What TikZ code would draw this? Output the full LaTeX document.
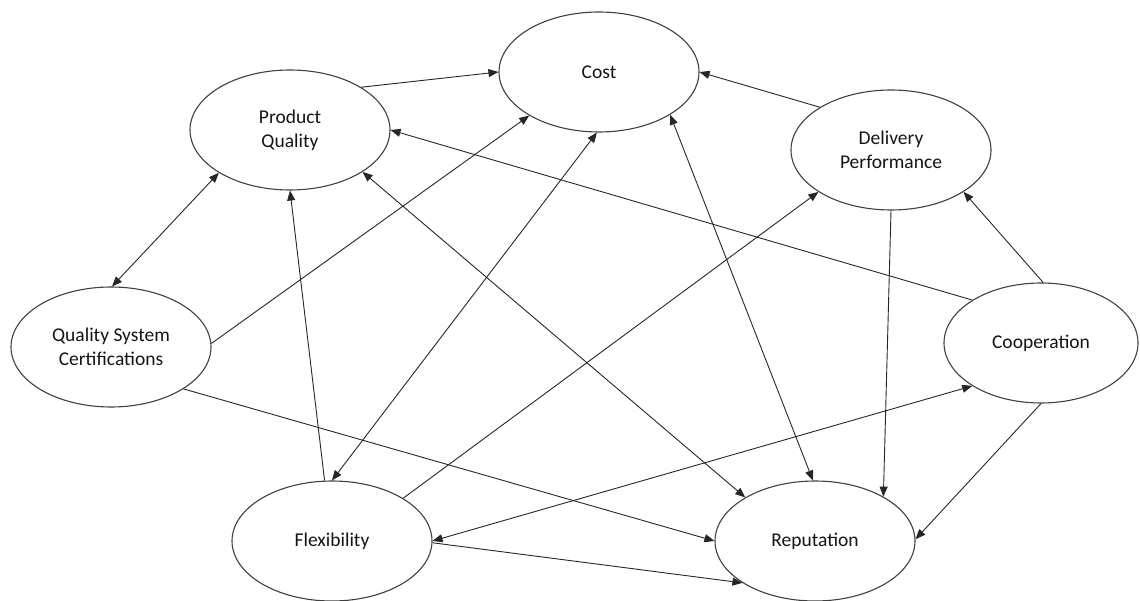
\documentclass[tikz,border=0pt]{standalone}
\usepackage{fontspec}
\setmainfont{Carlito}
\usetikzlibrary{arrows.meta,shapes.geometric}
\begin{document}
\begin{tikzpicture}[x=1pt,y=-1pt,
  factor/.style={ellipse,draw=black!75,line width=1.1pt,minimum width=200pt,minimum height=120pt,inner sep=0pt,align=center,text=black!92,font=\fontsize{19.5}{24}\selectfont},
  link/.style={line width=0.9pt,draw=black!85,-{Triangle[length=10pt,width=8pt]}},
  dlink/.style={line width=0.9pt,draw=black!85,{Triangle[length=10pt,width=8pt]}-{Triangle[length=10pt,width=8pt]}}]
\useasboundingbox (0,0) rectangle (1140,601);
\node[factor] (C) at (599,72) {Cost};
\node[factor] (P) at (290,130) {Product\\Quality};
\node[factor] (D) at (891,150) {Delivery\\Performance};
\node[factor] (Q) at (111,347) {Quality System\\Certifications};
\node[factor,minimum width=194pt] (K) at (1041,343) {Cooperation};
\node[factor] (F) at (332,541) {Flexibility};
\node[factor] (R) at (815,541) {Reputation};
% edges
\draw[link] (P.31) -- (C.180);
\draw[link] (D.149) -- (C.0);
\draw[link] (K.148) -- (P.0);
\draw[dlink] (Q.89) -- (P.211);
\draw[link] (Q.2) -- (C.212);
\draw[link] (F.97) -- (P.270);
\draw[dlink] (C.268) -- (F.90);
\draw[dlink] (P.-30.5) -- (R.148);
\draw[dlink] (C.-31.7) -- (R.92);
\draw[link] (F.31.8) -- (D.210.5);
\draw[link] (K.88) -- (D.-30.7);
\draw[link] (D.270) -- (R.33.9);
\draw[link] (K.270) -- (R.1);
\draw[dlink] (F.0) -- (K.212.5);
\draw[link] (Q.-30) -- (R.180);
\draw[link] (F.-1) -- (R.210);
\end{tikzpicture}
\end{document}
